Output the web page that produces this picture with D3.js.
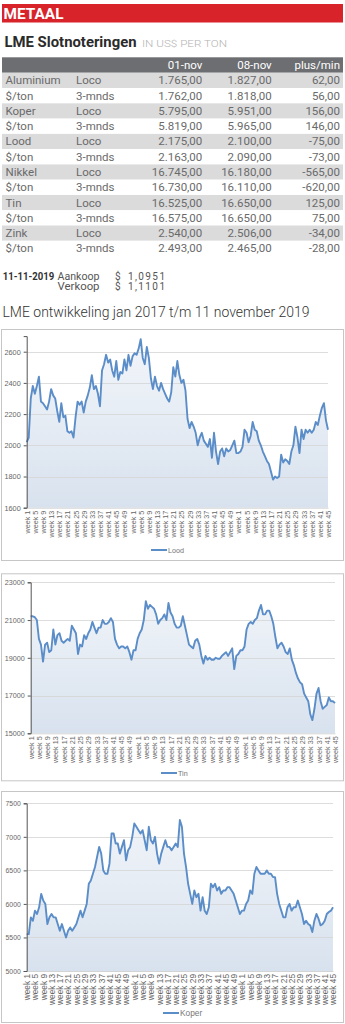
<!DOCTYPE html>
<html><head><meta charset="utf-8">
<script src="https://cdn.jsdelivr.net/npm/d3@7"></script>
<style>body{margin:0;background:#fff}svg{display:block}</style>
</head><body>
<svg id="c" width="345" height="1024"></svg>
<script>
// ---------- table data ----------
const headerCols = ["01-nov", "08-nov", "plus/min"];
const rowMetals = ["Aluminium","$/ton","Koper","$/ton","Lood","$/ton","Nikkel","$/ton","Tin","$/ton","Zink","$/ton"];
const rowTerms = ["Loco","3-mnds","Loco","3-mnds","Loco","3-mnds","Loco","3-mnds","Loco","3-mnds","Loco","3-mnds"];
const nov01 = ["1.765,00","1.762,00","5.795,00","5.819,00","2.175,00","2.163,00","16.745,00","16.730,00","16.525,00","16.575,00","2.540,00","2.493,00"];
const nov08 = ["1.827,00","1.818,00","5.951,00","5.965,00","2.100,00","2.090,00","16.180,00","16.110,00","16.650,00","16.650,00","2.506,00","2.465,00"];
const plusMin = ["62,00","56,00","156,00","146,00","-75,00","-73,00","-565,00","-620,00","125,00","75,00","-34,00","-28,00"];
const rateDate = "11-11-2019";
const rateLabels = ["Aankoop","Verkoop"];
const rateValues = ["1,0951","1,1101"];

// ---------- chart data (weekly, jan 2017 - week 45 2019) ----------
const years = [2017, 2018, 2019];
const weeksPerYear = [52, 52, 45];
const lood = [
2020,2050,2300,2380,2330,2380,2440,2280,2270,2250,
2230,2280,2360,2320,2300,2220,2150,2270,2180,2190,
2090,2080,2090,2050,2180,2280,2260,2280,2210,2280,
2320,2370,2450,2360,2380,2330,2250,2480,2520,2580,
2530,2550,2480,2440,2540,2420,2470,2460,2550,2480,
2580,2510,2570,2590,2580,2620,2680,2560,2520,2630,
2560,2430,2360,2440,2380,2350,2400,2360,2330,2300,
2280,2340,2500,2440,2540,2450,2400,2420,2350,2170,
2110,2150,2120,2080,2000,2050,2080,2030,2010,1990,
2040,1920,2080,1960,1880,1960,1980,1930,1980,1960,
1970,2000,2030,1950,1950,1960,1990,2100,2080,2020,
2060,2150,2100,2090,2030,2000,1960,1930,1900,1880,
1830,1780,1800,1790,1800,1940,1890,1910,1900,1880,
1960,2000,2120,2050,1950,2100,2040,2100,2080,2100,
2080,2100,2150,2130,2190,2240,2270,2160,2100];
const tin = [
21200,21200,21150,21000,20000,19700,18800,19700,19800,19300,
19400,20500,19700,20200,20300,19900,19800,19900,20000,19900,
20700,20500,20300,19200,19700,19600,20200,20000,20300,20500,
20900,20600,20300,20600,20600,21000,20800,20800,20900,21100,
20900,20000,19700,19500,19600,19600,19500,19600,19300,18900,
19400,19400,20000,20300,20500,21000,22000,21600,21800,21700,
21600,21300,20800,21000,21100,21300,21000,21900,21400,21200,
20800,20600,20600,20700,21200,20700,20200,19700,19600,19500,
19900,20000,19700,19100,18700,19100,18900,19000,18900,18900,
19000,18950,18950,19100,19200,19300,19100,19300,19500,18400,
19100,19200,19400,19400,19600,20500,20800,20900,20800,21000,
21100,21500,21800,21300,21300,21500,21500,21200,20800,20100,
19500,19700,19800,19600,19300,19200,19500,18900,18600,18200,
17900,17700,17600,17100,16900,16700,16000,15700,16300,17100,
17400,16700,16300,16400,16500,16900,16700,16700,16600];
const koper = [
5550,5550,5800,5750,5900,5850,5950,6150,6050,6000,
5700,5800,5850,5800,5800,5700,5600,5700,5600,5500,
5600,5650,5600,5650,5700,5800,5900,5800,5900,6000,
6300,6350,6450,6550,6700,6850,6750,6500,6450,6450,
6600,7050,7050,6900,6900,6750,6850,6950,6650,6800,
6850,7000,7200,7150,7100,7050,7100,6950,6800,7150,
6950,6900,7000,6750,6600,6750,6850,6950,6850,6850,
6800,6850,6900,6850,7250,7150,6750,6550,6300,6150,
6000,6200,6100,6150,5900,6100,5900,5850,5950,6300,
6250,6300,6200,6250,6150,6200,6200,6250,6250,6200,
6150,6050,5950,5850,5900,5900,6000,6050,6200,6150,
6450,6550,6500,6450,6450,6450,6500,6450,6450,6400,
6400,6150,6000,5900,5800,5800,5950,6000,5900,5950,
5950,6050,5950,5850,5700,5750,5700,5680,5580,5750,
5850,5780,5680,5700,5750,5850,5880,5900,5950];
const loodTicks = [1600,1800,2000,2200,2400,2600];
const tinTicks = [15000,17000,19000,21000,23000];
const koperTicks = [5000,5500,6000,6500,7000,7500];

// category keys + labels
const weekKeys = [], weekLabel = {};
years.forEach((yr, j) => { for (let w = 1; w <= weeksPerYear[j]; w++) { const k = yr + "-" + w; weekKeys.push(k); weekLabel[k] = "week " + w; } });

const svg = d3.select("#c");
const FONT = "Roboto, 'Liberation Sans', sans-serif";
const defs = svg.append("defs");

// ---------- header ----------
svg.append("rect").attr("x", 2).attr("y", 4).attr("width", 341).attr("height", 18.5).attr("fill", "#d8232a");
svg.append("text").attr("x", 3.5).attr("y", 19.3).text("METAAL")
  .attr("font-family", FONT).attr("font-weight", 700).attr("font-size", 15.5).attr("fill", "#fff")
  .attr("textLength", 60).attr("lengthAdjust", "spacingAndGlyphs");
svg.append("text").attr("x", 4.5).attr("y", 46.7).text("LME Slotnoteringen")
  .attr("font-family", FONT).attr("font-weight", 700).attr("font-size", 15).attr("fill", "#2b2b2b")
  .attr("textLength", 132).attr("lengthAdjust", "spacingAndGlyphs");
svg.append("text").attr("x", 142).attr("y", 46.5).text("IN US$ PER TON")
  .attr("font-family", FONT).attr("font-weight", 300).attr("font-size", 9.5).attr("fill", "#b3b3b3")
  .attr("textLength", 85).attr("lengthAdjust", "spacingAndGlyphs");

// ---------- table ----------
const tY0 = 57.3, headH = 15.4, rowH = 15.27, rowY0 = 72.8;
const colRight = [202.3, 271.7, 340];
svg.append("rect").attr("x", 2).attr("y", tY0).attr("width", 341).attr("height", headH).attr("fill", "#6d6e71");
headerCols.forEach((h, i) => svg.append("text").attr("x", colRight[i]).attr("y", tY0 + 11.6).text(h)
  .attr("text-anchor", "end").attr("font-family", FONT).attr("font-size", 11.5).attr("fill", "#fff"));
const rows = svg.append("g").selectAll("g").data(rowMetals).join("g")
  .attr("transform", (d, i) => `translate(0,${rowY0 + i * rowH})`);
rows.append("rect").attr("x", 2).attr("width", 341).attr("height", rowH)
  .attr("fill", (d, i) => i % 2 === 0 ? "#dbdbdc" : "#fff");
const cellStyle = s => s.attr("font-family", FONT).attr("font-size", 11.5).attr("fill", "#6a6a6a").attr("y", 11.6);
rows.append("text").attr("x", 5.5).text(d => d).call(cellStyle);
rows.append("text").attr("x", 76).text((d, i) => rowTerms[i]).call(cellStyle);
rows.append("text").attr("x", colRight[0]).attr("text-anchor", "end").text((d, i) => nov01[i]).call(cellStyle);
rows.append("text").attr("x", colRight[1]).attr("text-anchor", "end").text((d, i) => nov08[i]).call(cellStyle);
rows.append("text").attr("x", colRight[2]).attr("text-anchor", "end").text((d, i) => plusMin[i]).call(cellStyle);

// ---------- exchange rates ----------
svg.append("text").attr("x", 2.7).attr("y", 279.7).text(rateDate)
  .attr("font-family", FONT).attr("font-weight", 700).attr("font-size", 10).attr("fill", "#333")
  .attr("textLength", 51.5).attr("lengthAdjust", "spacingAndGlyphs");
rateLabels.forEach((l, i) => {
  const by = 279.7 + i * 10.6;
  svg.append("text").attr("x", 57.5).attr("y", by).text(l)
    .attr("font-family", FONT).attr("font-size", 10).attr("fill", "#555")
    .attr("textLength", 42).attr("lengthAdjust", "spacingAndGlyphs");
  svg.append("text").attr("x", 115).attr("y", by).text("$")
    .attr("font-family", FONT).attr("font-size", 10).attr("fill", "#555");
  svg.append("text").attr("x", 128).attr("y", by).text(rateValues[i])
    .attr("font-family", FONT).attr("font-size", 10).attr("fill", "#555")
    .attr("textLength", 37).attr("lengthAdjust", "spacing");
});

// ---------- section title ----------
svg.append("text").attr("x", 2.5).attr("y", 316.7).text("LME ontwikkeling jan 2017 t/m 11 november 2019")
  .attr("font-family", FONT).attr("font-weight", 300).attr("font-size", 14.5).attr("fill", "#333")
  .attr("textLength", 307).attr("lengthAdjust", "spacingAndGlyphs");

// ---------- charts ----------
const charts = [
  { name: "Lood", values: lood, ticks: loodTicks, domain: [1600, 2700],
    box: [1, 329, 342, 231], x0: 26.7, x1: 328, yB: 507.7, yT: 336.1,
    tickFont: 7.3, xFont: 7.2, legendY: 550, legendX: 151 },
  { name: "Tin", values: tin, ticks: tinTicks, domain: [15000, 23000],
    box: [1, 573.3, 342, 207], x0: 30.7, x1: 335, yB: 733.3, yT: 582.3,
    tickFont: 7.2, xFont: 7.2, legendY: 773, legendX: 161 },
  { name: "Koper", values: koper, ticks: koperTicks, domain: [5000, 7500],
    box: [1, 791, 342, 231], x0: 26.7, x1: 333, yB: 971, yT: 803.3,
    tickFont: 6.8, xFont: 8.3, legendY: 1013, legendX: 163 }
];
const lineColor = "#5b8dc8";

charts.forEach((c, ci) => {
  const g = svg.append("g");
  g.append("rect").attr("x", c.box[0] + 0.5).attr("y", c.box[1] + 0.5).attr("width", c.box[2]).attr("height", c.box[3])
    .attr("fill", "#fff").attr("stroke", "#c6c6c6");
  const x = d3.scalePoint().domain(weekKeys).range([c.x0, c.x1]);
  const y = d3.scaleLinear().domain(c.domain).range([c.yB, c.yT]);

  const grad = defs.append("linearGradient").attr("id", "gr" + ci).attr("gradientUnits", "userSpaceOnUse")
    .attr("x1", 0).attr("x2", 0).attr("y1", c.yT).attr("y2", c.yB);
  grad.append("stop").attr("offset", 0).attr("stop-color", "#f3f6fa");
  grad.append("stop").attr("offset", 1).attr("stop-color", "#d8e2ee");

  const area = d3.area().x((d, i) => x(weekKeys[i])).y0(y(c.domain[0])).y1(d => y(d));
  g.append("path").datum(c.values).attr("d", area).attr("fill", `url(#gr${ci})`);

  g.append("g").selectAll("line").data(c.ticks.filter(t => t > c.domain[0])).join("line")
    .attr("x1", c.x0).attr("x2", c.x1).attr("y1", d => Math.round(y(d)) + 0.5).attr("y2", d => Math.round(y(d)) + 0.5)
    .attr("stroke", "#d4d4d4").attr("stroke-opacity", 0.8);

  const line = d3.line().x((d, i) => x(weekKeys[i])).y(d => y(d)).curve(d3.curveLinear);
  g.append("path").datum(c.values).attr("d", line).attr("fill", "none")
    .attr("stroke", lineColor).attr("stroke-width", 1.9).attr("stroke-linejoin", "round");

  // x axis
  const xa = g.append("g").attr("transform", `translate(0,${c.yB})`)
    .call(d3.axisBottom(x).tickValues(weekKeys.filter((k, i) => i % 4 === 0)).tickFormat(k => weekLabel[k]).tickSize(0));
  xa.select(".domain").attr("stroke", "#d4d4d4");
  xa.selectAll("text").attr("transform", "rotate(-90)").attr("text-anchor", "end")
    .attr("x", -3).attr("y", 0).attr("dy", "0.35em")
    .attr("font-family", "'Liberation Sans', Arial, sans-serif").attr("font-size", c.xFont).attr("fill", "#666");

  // y axis
  const ya = g.append("g").attr("transform", `translate(${c.x0},0)`)
    .call(d3.axisLeft(y).tickValues(c.ticks).tickSize(3).tickPadding(3).tickFormat(d3.format("d")));
  ya.select(".domain").attr("stroke", "#555");
  ya.selectAll(".tick line").attr("stroke", "#555");
  ya.selectAll("text").attr("font-family", "'Liberation Sans', Arial, sans-serif").attr("font-size", c.tickFont).attr("fill", "#666");

  // legend
  g.append("line").attr("x1", c.legendX).attr("x2", c.legendX + 16).attr("y1", c.legendY).attr("y2", c.legendY)
    .attr("stroke", lineColor).attr("stroke-width", 2);
  g.append("text").attr("x", c.legendX + 17).attr("y", c.legendY + 2.6).text(c.name)
    .attr("font-family", "'Liberation Sans', Arial, sans-serif").attr("font-size", c.xFont).attr("fill", "#777");
});
</script>
</body></html>
